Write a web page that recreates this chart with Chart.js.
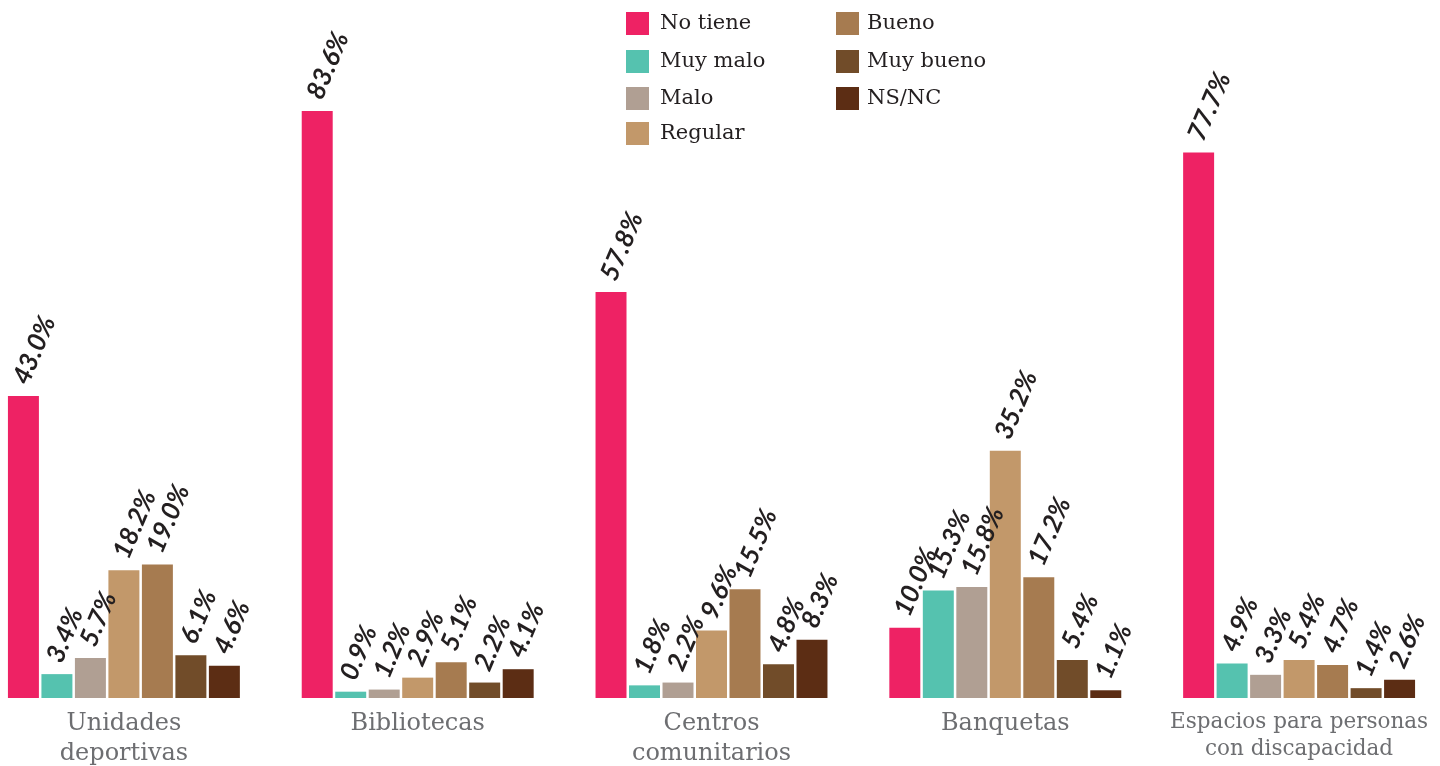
<!DOCTYPE html>
<html>
<head>
<meta charset="utf-8">
<script src="https://cdn.jsdelivr.net/npm/chart.js@4.4.1/dist/chart.umd.min.js"></script>
<style>
  html, body { margin: 0; padding: 0; background: #fff; overflow: hidden; }
  body { width: 1440px; height: 766px; position: relative; }
  #wrap { position: absolute; left: -23px; top: 0; width: 1469px; height: 766px; }
  .legend { position: absolute; font-family: "DejaVu Serif", serif; font-size: 21px; color: #231f20; }
  .legend div { position: absolute; white-space: nowrap; height: 23px; line-height: 23px; }
  .legend span { position: absolute; left: 0; top: 0; width: 23px; height: 23px; }
  .legend b { font-weight: normal; position: absolute; top: -1px; }
</style>
</head>
<body>
<div id="wrap"><canvas id="chart"></canvas></div>
<div class="legend" id="legend"></div>
<script>
const categories = [
  ['Unidades', 'deportivas'],
  'Bibliotecas',
  ['Centros', 'comunitarios'],
  'Banquetas',
  ['Espacios para personas', 'con discapacidad']
];
const seriesNames = ['No tiene', 'Muy malo', 'Malo', 'Regular', 'Bueno', 'Muy bueno', 'NS/NC'];
const seriesColors = ['#ee2264', '#55c2af', '#b09f93', '#c2986a', '#a67b50', '#714c29', '#5c2d14'];

const noTiene  = [43.0, 83.6, 57.8, 10.0, 77.7];
const muyMalo  = [3.4, 0.9, 1.8, 15.3, 4.9];
const malo     = [5.7, 1.2, 2.2, 15.8, 3.3];
const regular  = [18.2, 2.9, 9.6, 35.2, 5.4];
const bueno    = [19.0, 5.1, 15.5, 17.2, 4.7];
const muyBueno = [6.1, 2.2, 4.8, 5.4, 1.4];
const nsnc     = [4.6, 4.1, 8.3, 1.1, 2.6];
const seriesValues = [noTiene, muyMalo, malo, regular, bueno, muyBueno, nsnc];

// legend (two columns, html)
const legendEl = document.getElementById('legend');
const legendPos = [[626, 12, 34], [626, 50, 34], [626, 87, 34], [626, 122, 34], [836, 12, 31], [836, 50, 31], [836, 87, 31]];
seriesNames.forEach((name, i) => {
  const d = document.createElement('div');
  d.style.left = legendPos[i][0] + 'px';
  d.style.top = legendPos[i][1] + 'px';
  d.innerHTML = '<span style="background:' + seriesColors[i] + '"></span><b style="left:' + legendPos[i][2] + 'px">' + name + '</b>';
  legendEl.appendChild(d);
});

const valueLabels = {
  id: 'valueLabels',
  afterDatasetsDraw(chart) {
    const ctx = chart.ctx;
    ctx.save();
    ctx.fillStyle = '#231f20';
    ctx.font = 'italic bold 26px Lato';
    ctx.textAlign = 'left';
    ctx.textBaseline = 'middle';
    chart.data.datasets.forEach((ds, i) => {
      chart.getDatasetMeta(i).data.forEach((bar, j) => {
        ctx.save();
        ctx.translate(bar.x - 3, bar.y - 13);
        ctx.rotate(-67 * Math.PI / 180);
        ctx.fillText(ds.data[j].toFixed(1) + '%', 0, 0);
        ctx.restore();
      });
    });
    ctx.restore();
  }
};

new Chart(document.getElementById('chart'), {
  type: 'bar',
  data: {
    labels: categories,
    datasets: seriesNames.map((name, i) => ({
      label: name,
      data: seriesValues[i],
      backgroundColor: seriesColors[i],
      categoryPercentage: 0.798,
      barPercentage: 0.925
    }))
  },
  options: {
    responsive: true,
    maintainAspectRatio: false,
    animation: false,
    layout: { padding: 0 },
    scales: {
      x: {
        grid: { display: false },
        border: { display: false },
        ticks: {
          color: '#6d6e71',
          padding: 3,
          maxRotation: 0,
          autoSkip: false,
          font: (c) => ({ family: 'DejaVu Serif', size: c.index === 4 ? 21.5 : 24, lineHeight: 1.25 })
        },
        afterFit(scale) { scale.height = 68; }
      },
      y: {
        display: false,
        min: 0,
        max: 99.4
      }
    },
    plugins: {
      legend: { display: false },
      tooltip: { enabled: false }
    }
  },
  plugins: [valueLabels]
});
</script>
</body>
</html>
